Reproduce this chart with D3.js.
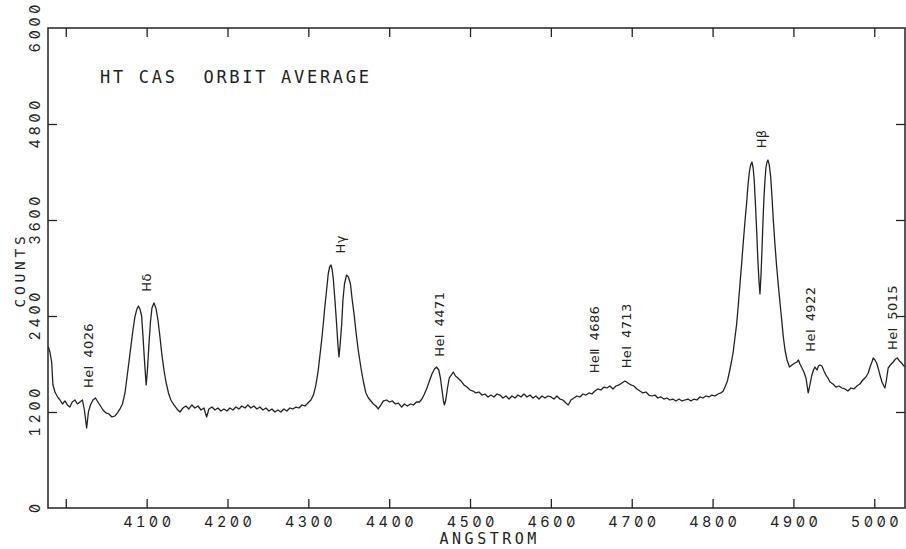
<!DOCTYPE html>
<html>
<head>
<meta charset="utf-8">
<script src="https://cdn.jsdelivr.net/npm/d3@7"></script>
<style>
  html, body { margin: 0; padding: 0; background: #fff; }
  svg { display: block; }
  .mono { font-family: "DejaVu Sans Mono", monospace; fill: #222; }
  .num { font-family: Inter, "DejaVu Sans Mono", monospace; font-feature-settings: "zero" 1, "tnum" 1; fill: #222; }
  .tick-label { font-size: 14.5px; letter-spacing: 3.4px; }
  .axis-title { font-size: 15px; letter-spacing: 3.5px; }
  .y-title { font-size: 14.5px; letter-spacing: 3.8px; }
  .chart-title { font-size: 17px; letter-spacing: 2.7px; }
  .line-label { font-family: "DejaVu Sans", sans-serif; font-size: 13px; fill: #222; letter-spacing: 0.4px; word-spacing: 3px; }
</style>
</head>
<body>
<svg id="chart" width="906" height="549"></svg>
<script>
// Orbit-averaged spectrum of HT Cas: [wavelength (Å), counts]
const spectrum = [
  [3978.3,2016],[3980.4,1950],[3982.5,1825],[3984.1,1540],[3986.6,1450],[3989.7,1390],[3992.8,1350],[3995.9,1300],
  [3999,1338],[4002,1288],[4005,1262],[4008,1325],[4011.3,1350],[4014.4,1300],[4017.5,1325],[4020.6,1350],
  [4023,1225],[4025.8,1000],[4028,1200],[4030.5,1288],[4033.6,1350],[4036.7,1375],[4039.8,1325],[4042.9,1275],
  [4046,1225],[4049.7,1188],[4053.4,1175],[4057.1,1138],[4060.8,1150],[4063.9,1188],[4067,1238],[4070.1,1300],
  [4073.2,1438],[4075.6,1625],[4078.1,1825],[4080.6,2025],[4083.1,2225],[4085.5,2388],[4088,2488],[4089.9,2525],
  [4091.7,2488],[4093.8,2400],[4095.4,2163],[4097.3,1850],[4099.4,1538],[4101,1725],[4102.8,2038],[4104.7,2325],
  [4106.6,2500],[4109,2563],[4111.5,2500],[4114,2350],[4116.5,2138],[4118.9,1913],[4121.4,1725],[4123.9,1575],
  [4127,1438],[4130,1350],[4133.8,1288],[4137.5,1238],[4141.2,1200],[4144.9,1250],[4148.6,1275],[4152.3,1238],
  [4156,1288],[4159.7,1250],[4163.5,1275],[4167.2,1225],[4170.9,1250],[4174.2,1138],[4177,1238],[4180.8,1262],
  [4184.5,1225],[4188.2,1250],[4191.9,1212],[4195.6,1238],[4199.3,1212],[4203,1250],[4206.7,1225],[4210.5,1262],
  [4214.2,1238],[4217.9,1275],[4221.6,1250],[4225.3,1288],[4229,1250],[4232.7,1275],[4236.4,1238],[4240.1,1262],
  [4243.8,1225],[4247.6,1250],[4251.3,1212],[4255,1238],[4258.7,1200],[4262.4,1225],[4266.1,1200],[4269.8,1238],
  [4273.5,1212],[4277.2,1250],[4280.9,1238],[4284.7,1262],[4288.4,1250],[4292.1,1288],[4295.8,1275],[4299.5,1312],
  [4303.2,1350],[4306.3,1412],[4309.4,1538],[4312.3,1725],[4314.4,1913],[4316.5,2100],[4318.7,2325],[4320.5,2525],
  [4322.6,2725],[4324.6,2925],[4326.3,3012],[4328,3038],[4329.6,2975],[4331,2850],[4332.9,2600],[4334.8,2325],
  [4336.6,2038],[4337.9,1888],[4339.3,2038],[4341.2,2288],[4342.8,2600],[4344.7,2800],[4347.2,2912],[4349.6,2888],
  [4352.1,2800],[4354.3,2600],[4356.7,2412],[4359.1,2188],[4361.7,1975],[4365.1,1750],[4368.2,1575],[4371.2,1438],
  [4374.3,1375],[4377.4,1338],[4380.5,1300],[4383.6,1275],[4386.5,1238],[4389.8,1288],[4392.9,1338],[4396.8,1350],
  [4400.3,1325],[4404,1338],[4407.7,1300],[4411.4,1312],[4415.4,1262],[4418.8,1300],[4422.6,1275],[4426.3,1300],
  [4430,1288],[4433.7,1325],[4437.4,1325],[4440.5,1362],[4443.6,1425],[4446.7,1500],[4449.8,1588],[4452.9,1675],
  [4456,1738],[4458.7,1762],[4461.3,1725],[4463.4,1625],[4465.3,1475],[4467.1,1338],[4468.4,1288],[4470,1350],
  [4472.1,1500],[4474.3,1625],[4476.8,1662],[4479.3,1700],[4482,1650],[4485,1625],[4488.8,1588],[4492.5,1538],
  [4496.2,1512],[4500,1475],[4503.7,1462],[4507.3,1438],[4511,1450],[4514.8,1412],[4518.5,1425],[4522.2,1388],
  [4525.9,1412],[4529.6,1388],[4533.3,1425],[4537,1412],[4540.7,1375],[4544.5,1400],[4548.2,1362],[4551.9,1400],
  [4555.6,1375],[4559.3,1412],[4563,1388],[4566.7,1425],[4570.4,1388],[4574.1,1412],[4577.8,1375],[4581.5,1400],
  [4585.3,1362],[4589,1400],[4592.7,1375],[4596.4,1400],[4600.1,1388],[4603.8,1362],[4607.5,1400],[4611.2,1362],
  [4614.9,1350],[4618.6,1312],[4621.5,1288],[4624.8,1350],[4628.5,1375],[4632.2,1400],[4635.9,1388],[4639.7,1425],
  [4643.4,1412],[4647.1,1438],[4650.8,1425],[4654.5,1462],[4658.2,1488],[4661.9,1475],[4665.6,1512],[4669.3,1500],
  [4673,1525],[4676.8,1488],[4680.5,1525],[4684.2,1538],[4687.9,1562],[4691.6,1588],[4695.3,1562],[4699,1538],
  [4702.7,1525],[4706.4,1488],[4710.1,1462],[4713.8,1438],[4717.6,1450],[4721.3,1412],[4725,1400],[4728.7,1412],
  [4732.4,1375],[4736.1,1388],[4739.8,1362],[4743.5,1375],[4747.2,1350],[4750.9,1362],[4754.6,1338],[4758.4,1362],
  [4762.1,1338],[4765.8,1350],[4769.5,1362],[4773.2,1338],[4776.9,1362],[4780.6,1350],[4784.3,1388],[4788,1375],
  [4791.7,1400],[4795.5,1388],[4799.2,1412],[4802.9,1400],[4806.6,1425],[4810.3,1438],[4813.2,1462],[4815.9,1525],
  [4818.4,1588],[4820.8,1700],[4823.3,1825],[4825.5,1950],[4827.6,2125],[4829.8,2300],[4831.7,2525],[4833.8,2788],
  [4835.9,3050],[4837.9,3312],[4840,3575],[4842.1,3812],[4843.7,4025],[4845.3,4188],[4847.1,4288],[4848.7,4325],
  [4850.2,4250],[4851.5,4100],[4853,3800],[4854.5,3475],[4855.5,3225],[4856.5,3000],[4857.6,2812],[4858.6,2675],
  [4859.9,2912],[4861.1,3225],[4862.3,3575],[4863.6,3888],[4864.8,4100],[4866,4250],[4867.3,4325],[4868.5,4350],
  [4870.1,4288],[4871.9,4138],[4873.5,3888],[4875.1,3600],[4877.2,3288],[4879.3,3012],[4881.3,2788],[4883.4,2562],
  [4885.5,2350],[4887.5,2138],[4889.6,1975],[4892.1,1850],[4895.1,1762],[4898.2,1788],[4901.9,1812],[4904.4,1825],
  [4906.2,1850],[4908.1,1800],[4910.6,1750],[4913,1700],[4915.5,1625],[4918.3,1438],[4920.4,1538],[4922.5,1650],
  [4924.8,1725],[4926.6,1762],[4929.1,1725],[4931,1775],[4932.8,1788],[4935.3,1775],[4937.8,1712],[4940.2,1662],
  [4942.7,1625],[4945.2,1575],[4948.9,1550],[4952.6,1512],[4956.3,1525],[4960,1500],[4963.7,1488],[4967.4,1462],
  [4971.1,1500],[4974.8,1488],[4978.5,1525],[4982.2,1550],[4985.9,1600],[4989.7,1638],[4992.5,1688],[4995.2,1775],
  [4997.1,1825],[4998.7,1875],[5000.8,1850],[5002.9,1812],[5005.1,1738],[5007,1662],[5009.5,1575],[5011.9,1525],
  [5013.2,1500],[5015,1600],[5017.2,1750],[5020,1788],[5023.4,1825],[5026.1,1862],[5028.4,1875],[5031.1,1838],
  [5033.8,1812],[5036.6,1775],[5039.1,1762]
];

// Axis ticks
const wavelengthTicks = [4000, 4100, 4200, 4300, 4400, 4500, 4600, 4700, 4800, 4900, 5000];
const wavelengthTickLabels = ["", "4100", "4200", "4300", "4400", "4500", "4600", "4700", "4800", "4900", "5000"];
const countTicks = [0, 1200, 2400, 3600, 4800, 6000];
const countTickLabels = ["0", "1200", "2400", "3600", "4800", "6000"];

// Identified emission lines: label, wavelength of the label, count level where the label starts
const lineNames = ["HeI 4026", "Hδ", "Hγ", "HeI 4471", "HeⅡ 4686", "HeI 4713", "Hβ", "HeI 4922", "HeI 5015"];
const lineWavelengths = [4027.8, 4099, 4339.7, 4461.9, 4653.3, 4692.8, 4860.7, 4920.4, 5022.7];
const lineLabelCounts = [1500, 2704, 3181, 1891, 1683, 1746, 4496, 1954, 1975];

const titleText = "HT CAS  ORBIT AVERAGE";
const xTitle = "ANGSTROM";
const yTitle = "COUNTS";

// Layout
const plot = { left: 48, right: 905, top: 28, bottom: 508 };
const ink = "#222";

const svg = d3.select("#chart");

const x = d3.scaleLinear().domain([3978, 5038]).range([plot.left, plot.right]);
const y = d3.scaleLinear().domain([0, 6000]).range([plot.bottom, plot.top]);

svg.append("defs").append("clipPath").attr("id", "plot-clip")
  .append("rect")
  .attr("x", plot.left).attr("y", plot.top)
  .attr("width", plot.right - plot.left).attr("height", plot.bottom - plot.top);

// Frame
svg.append("rect")
  .attr("x", plot.left).attr("y", plot.top)
  .attr("width", plot.right - plot.left).attr("height", plot.bottom - plot.top)
  .attr("fill", "none").attr("stroke", ink).attr("stroke-width", 1.5);

function styleAxis(g) {
  g.select(".domain").remove();
  g.selectAll(".tick line").attr("stroke", ink).attr("stroke-width", 1.3);
}

// Bottom axis with labels
const xFmt = d => wavelengthTickLabels[wavelengthTicks.indexOf(d)];
const gxb = svg.append("g")
  .attr("transform", `translate(0,${plot.bottom})`)
  .call(d3.axisBottom(x).tickValues(wavelengthTicks).tickSize(-9).tickSizeOuter(0).tickFormat(xFmt));
styleAxis(gxb);
gxb.selectAll(".tick text")
  .attr("class", "num tick-label")
  .attr("y", 18.5).attr("dy", 0).attr("dx", 1.7);

// Top axis, ticks only
const gxt = svg.append("g")
  .attr("transform", `translate(0,${plot.top})`)
  .call(d3.axisTop(x).tickValues(wavelengthTicks).tickSize(-9).tickSizeOuter(0).tickFormat(""));
styleAxis(gxt);

// Left axis with rotated labels
const yFmt = d => countTickLabels[countTicks.indexOf(d)];
const gyl = svg.append("g")
  .attr("transform", `translate(${plot.left},0)`)
  .call(d3.axisLeft(y).tickValues(countTicks).tickSize(-9).tickSizeOuter(0).tickFormat(yFmt));
styleAxis(gyl);
gyl.selectAll(".tick line").filter(d => d === 0 || d === 6000).remove();
gyl.selectAll(".tick text")
  .attr("class", "num tick-label")
  .attr("x", 0).attr("y", 0).attr("dy", 0).attr("dx", 1.7)
  .attr("text-anchor", "middle")
  .attr("transform", "translate(-7.7,0) rotate(-90)");

// Right axis, ticks only
const gyr = svg.append("g")
  .attr("transform", `translate(${plot.right},0)`)
  .call(d3.axisRight(y).tickValues(countTicks).tickSize(-9).tickSizeOuter(0).tickFormat(""));
styleAxis(gyr);
gyr.selectAll(".tick line").filter(d => d === 0 || d === 6000).remove();

// Spectrum
const line = d3.line().x(d => x(d[0])).y(d => y(d[1]));
svg.append("path")
  .datum(spectrum)
  .attr("clip-path", "url(#plot-clip)")
  .attr("d", line)
  .attr("fill", "none")
  .attr("stroke", ink)
  .attr("stroke-width", 1.3)
  .attr("stroke-linejoin", "round");

// Line identifications
svg.append("g").selectAll("text")
  .data(lineNames)
  .join("text")
  .attr("class", "line-label")
  .attr("transform", (d, i) => `translate(${x(lineWavelengths[i]) + 4.7},${y(lineLabelCounts[i])}) rotate(-90)`)
  .text(d => d);

// Titles
svg.append("text")
  .attr("class", "mono chart-title")
  .attr("x", 100).attr("y", 83)
  .attr("xml:space", "preserve")
  .style("white-space", "pre")
  .text(titleText);

svg.append("text")
  .attr("class", "mono axis-title")
  .attr("text-anchor", "middle")
  .attr("x", 489.7).attr("y", 544)
  .text(xTitle);

svg.append("text")
  .attr("class", "mono y-title")
  .attr("text-anchor", "middle")
  .attr("transform", "translate(25,270) rotate(-90)")
  .text(yTitle);
</script>
</body>
</html>
